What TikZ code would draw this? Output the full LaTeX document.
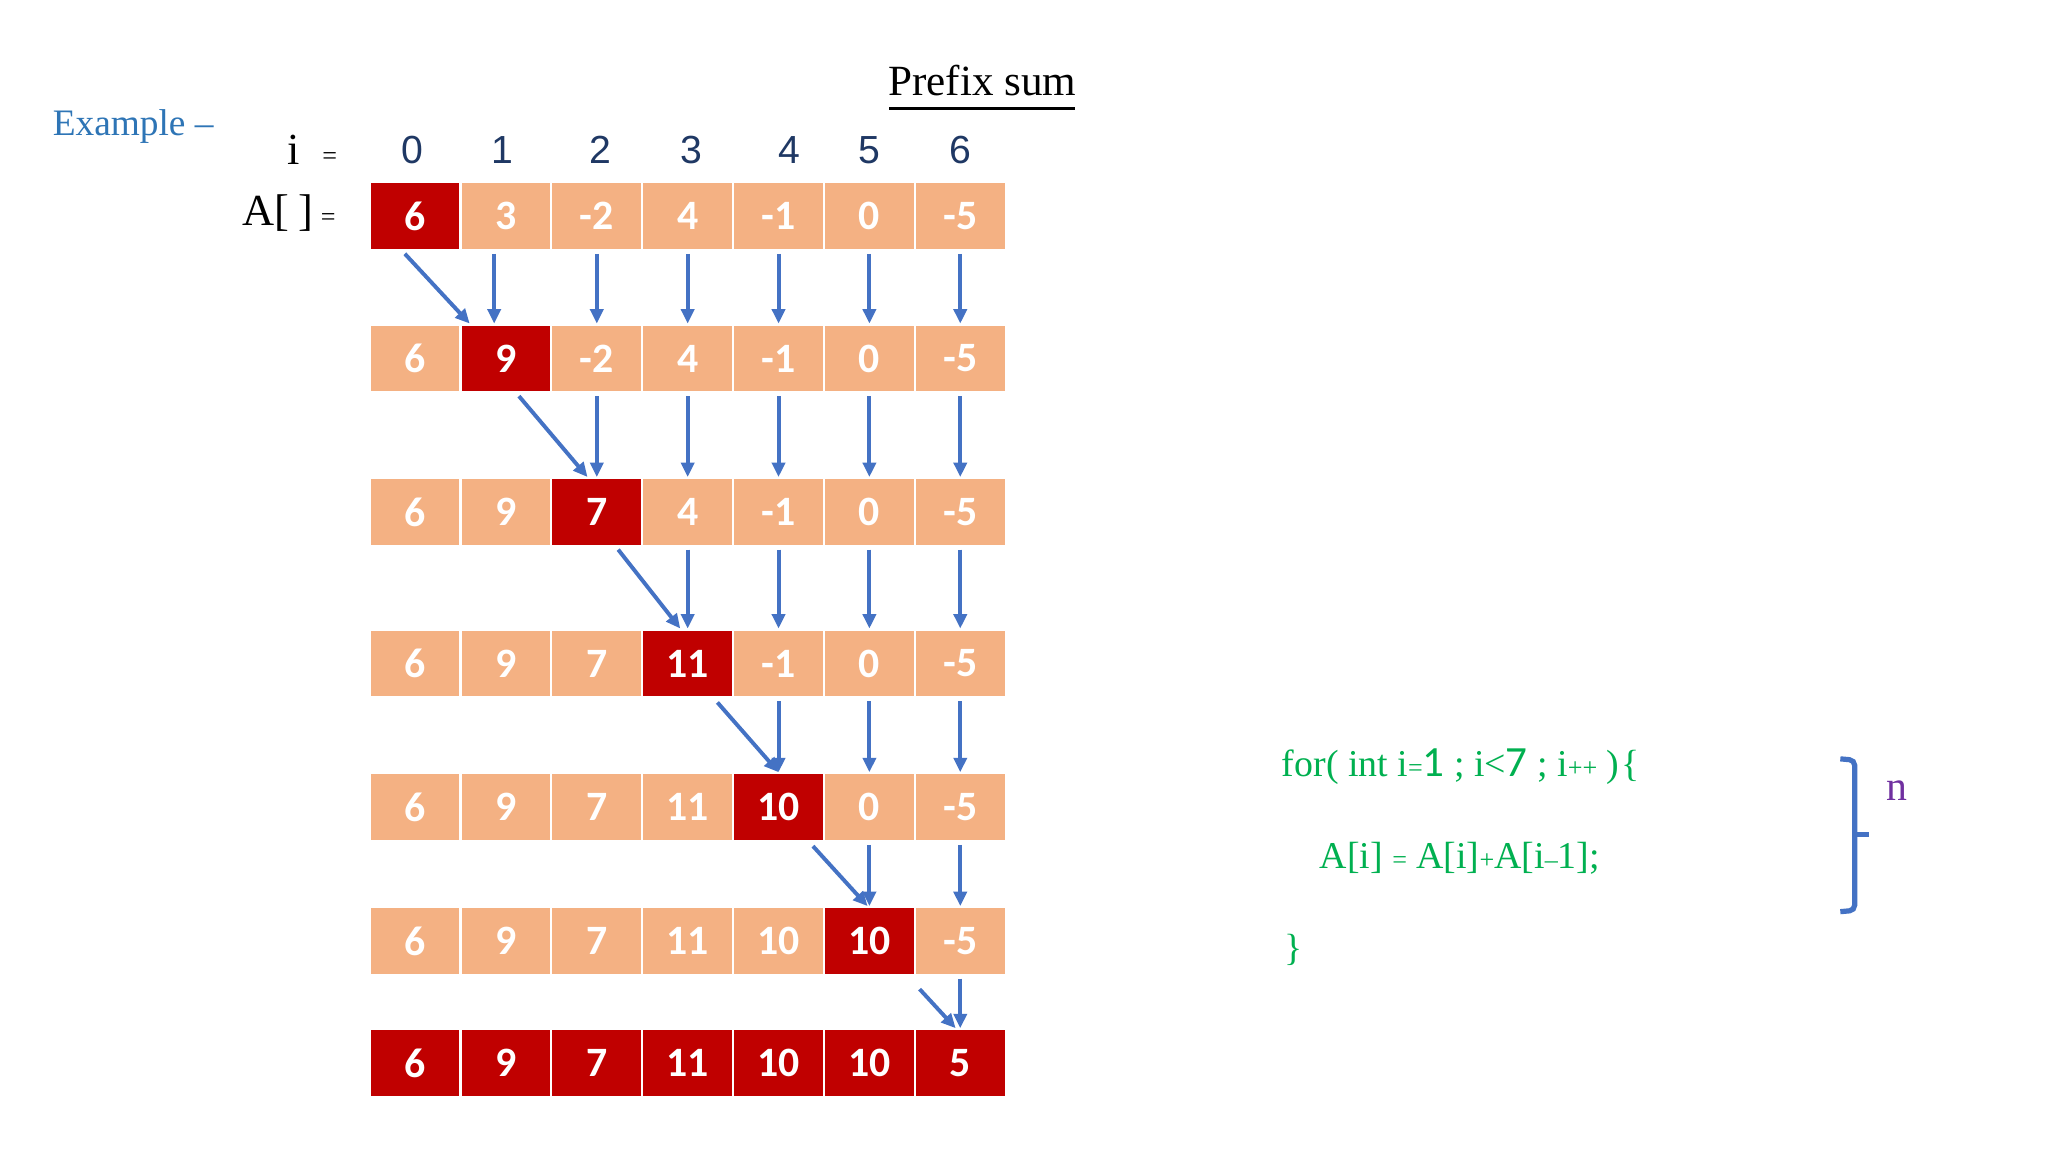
\documentclass[tikz,border=0pt]{standalone}
\usepackage{fontspec}
\setmainfont{Liberation Serif}
\newfontfamily\cellfont{Carlito}
\newfontfamily\idxfont{Liberation Sans}
\usetikzlibrary{arrows.meta,calc}
\definecolor{cellL}{HTML}{F4B183}
\definecolor{cellD}{HTML}{C00000}
\definecolor{arrowB}{HTML}{4472C4}
\definecolor{codeG}{HTML}{00B050}
\definecolor{exBlue}{HTML}{2E75B6}
\definecolor{navy}{HTML}{1F3864}
\definecolor{purp}{HTML}{7030A0}
\newcommand\opsz{\fontsize{10}{10}\selectfont}
\newcommand\bigdig{\cellfont\fontsize{16.5}{16.5}\selectfont}
\tikzset{
 cell/.style={rectangle, draw=white, line width=0.8pt, minimum width=34.8pt, minimum height=26pt, inner sep=0pt, text=white, font=\cellfont\bfseries\fontsize{16}{16}\selectfont},
 arr/.style={draw=arrowB, line width=1.5pt, -{Triangle[length=5.5pt,width=5pt]}},
 idx/.style={text=navy, font=\idxfont\fontsize{15}{15}\selectfont, inner sep=0pt},
 code/.style={text=codeG, font=\fontsize{14.5}{14.5}\selectfont, anchor=west, inner sep=0pt},
}
\begin{document}
\begin{tikzpicture}[x=0.5pt,y=-0.5pt]
\fill[white] (0,0) rectangle (1568,882);
\path[use as bounding box] (0,0) rectangle (1568,882);

% cells
\foreach \r/\y/\dk/\vals in {0/165.5/0/{6,3,-2,4,-1,0,-5}, 1/274.5/1/{6,9,-2,4,-1,0,-5}, 2/392/2/{6,9,7,4,-1,0,-5}, 3/508/3/{6,9,7,11,-1,0,-5}, 4/618/4/{6,9,7,11,10,0,-5}, 5/720.5/5/{6,9,7,11,10,10,-5}, 6/814/7/{6,9,7,11,10,10,5}}{
  \foreach \v [count=\c from 0] in \vals {
    \ifnum\c=\dk \def\fc{cellD}\else\ifnum\dk=7 \def\fc{cellD}\else\def\fc{cellL}\fi\fi
    \node[cell, fill=\fc] (n\r-\c) at ({283+69.57*(\c+0.5)}, \y) {\v};
  }
}

% vertical arrows
\foreach \k in {0,...,5} {
  \pgfmathtruncatemacro\kk{\k+1}
  \foreach \c in {\kk,...,6} {
    \pgfmathsetmacro\xs{(\k==0 && \c==1) ? -4.5 : 0}
    \draw[arr] ([xshift=\xs pt, yshift=-1pt]n\k-\c.south) -- ([xshift=\xs pt]n\kk-\c.north);
  }
}

% diagonal arrows
\foreach \k/\fs/\fe/\dy in {0/0.39/0.11/2, 1/0.64/0.40/2, 2/0.73/0.42/2, 3/0.82/0.50/3, 4/0.87/0.48/3, 5/1.04/0.45/10} {
  \pgfmathtruncatemacro\kk{\k+1}
  \draw[arr] ($(n\k-\k.south west)!\fs!(n\k-\k.south east)+(0,\dy)$) -- ($(n\kk-\kk.north west)!\fe!(n\kk-\kk.north east)$);
}

% indices
\foreach \d/\x in {0/316,1/385,2/460,3/529,4/604,5/666,6/735}
  \node[idx] (i\d) at (\x,115) {\d};

% labels
\node[anchor=west, text=exBlue, font=\fontsize{14.3}{14.3}\selectfont, inner sep=0pt] (ex) at (40,97) {Example –};
\node[font=\fontsize{16.5}{16.5}\selectfont, inner sep=0pt] (title) at (752,62) {Prefix sum};
\draw[line width=1pt] (681,83) -- (823,83);
\node[anchor=west, inner sep=0pt, font=\fontsize{17}{17}\selectfont] (ilab) at (220,115) {i\enspace{\opsz =}};
\node[anchor=west, inner sep=0pt, font=\fontsize{17}{17}\selectfont] (alab) at (185,163) {A[\kern3.5pt]\kern3pt{\opsz =}};

% code
\node[code] (l1) at (981,587) {for( int i{\opsz=}{\bigdig 1} ; i<{\bigdig 7} ; i{\opsz++} )\kern1pt\{};
\node[code] (l2) at (1010,657) {A[i] {\opsz=} A[i]{\opsz+}A[i{\opsz–}1];};
\node[code] (l3) at (983,727) {\}};

% bracket
\draw[draw=arrowB, line width=2pt, rounded corners=2pt] (1409,581) -- (1420,582) -- (1420,697) -- (1409,698);
\draw[draw=arrowB, line width=2pt] (1420,639) -- (1431,639);
\node[text=purp, font=\fontsize{16}{16}\selectfont, inner sep=0pt] (nlab) at (1452,605) {n};
\end{tikzpicture}
\end{document}
